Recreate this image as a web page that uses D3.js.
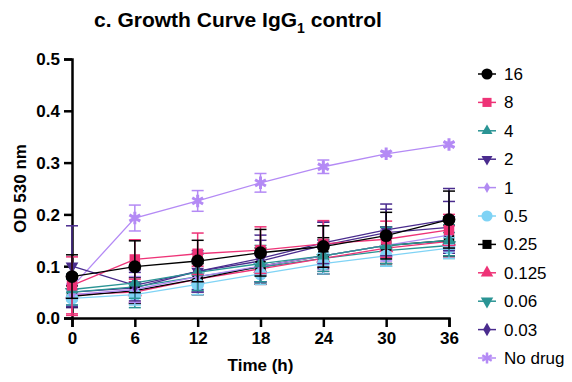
<!DOCTYPE html>
<html>
<head>
<meta charset="utf-8">
<script src="https://cdn.jsdelivr.net/npm/d3@7"></script>
<style>
  body { margin: 0; background: #fff; }
  text { font-family: "Liberation Sans", Arial, sans-serif; }
</style>
</head>
<body>
<div id="chart"></div>
<script>
const hours = [0, 6, 12, 18, 24, 30, 36];
const yTicks = [0.0, 0.1, 0.2, 0.3, 0.4, 0.5];
const seriesNames = ['16', '8', '4', '2', '1', '0.5', '0.25', '0.125', '0.06', '0.03', 'No drug'];

const mean16 = [0.080, 0.099, 0.110, 0.126, 0.138, 0.159, 0.190];
const err16 = [0.042, 0.050, 0.040, 0.045, 0.040, 0.045, 0.055];
const mean8 = [0.063, 0.113, 0.124, 0.131, 0.143, 0.152, 0.170];
const err8 = [0.055, 0.038, 0.040, 0.045, 0.045, 0.035, 0.030];
const mean4 = [0.055, 0.068, 0.088, 0.105, 0.120, 0.140, 0.150];
const err4 = [0.030, 0.030, 0.035, 0.035, 0.030, 0.035, 0.030];
const mean2 = [0.100, 0.063, 0.090, 0.115, 0.145, 0.170, 0.190];
const err2 = [0.078, 0.030, 0.040, 0.045, 0.040, 0.050, 0.060];
const mean1 = [0.045, 0.055, 0.080, 0.100, 0.120, 0.140, 0.160];
const err1 = [0.020, 0.025, 0.030, 0.030, 0.030, 0.030, 0.030];
const mean05 = [0.038, 0.045, 0.065, 0.085, 0.105, 0.120, 0.135];
const err05 = [0.015, 0.020, 0.020, 0.020, 0.020, 0.020, 0.020];
const mean025 = [0.042, 0.053, 0.075, 0.100, 0.120, 0.140, 0.150];
const err025 = [0.020, 0.025, 0.030, 0.035, 0.035, 0.035, 0.030];
const mean0125 = [0.045, 0.050, 0.075, 0.095, 0.115, 0.135, 0.148];
const err0125 = [0.040, 0.020, 0.025, 0.030, 0.030, 0.030, 0.030];
const mean006 = [0.050, 0.060, 0.080, 0.098, 0.115, 0.130, 0.140];
const err006 = [0.025, 0.040, 0.030, 0.030, 0.030, 0.030, 0.025];
const mean003 = [0.050, 0.058, 0.090, 0.110, 0.140, 0.165, 0.175];
const err003 = [0.030, 0.030, 0.035, 0.040, 0.045, 0.045, 0.050];
const meanNoDrug = [0.060, 0.193, 0.226, 0.261, 0.292, 0.317, 0.335];
const errNoDrug = [0.000, 0.025, 0.020, 0.018, 0.013, 0.005, 0.004];

const allMeans = [mean16, mean8, mean4, mean2, mean1, mean05, mean025, mean0125, mean006, mean003, meanNoDrug];
const allErrs = [err16, err8, err4, err2, err1, err05, err025, err0125, err006, err003, errNoDrug];
const colors = ['#000000', '#ee3377', '#2a9494', '#4a2c8e', '#b18af2', '#7fd3f5', '#000000', '#ee3377', '#2a9494', '#4a2c8e', '#b48af5'];
const symbols = [d3.symbolCircle, d3.symbolSquare, d3.symbolTriangle, 'down', d3.symbolDiamond, d3.symbolCircle, d3.symbolSquare, d3.symbolTriangle, 'down', d3.symbolDiamond, d3.symbolAsterisk];
const sizes = [130, 110, 70, 70, 45, 130, 110, 90, 90, 70, 110];

const series = seriesNames.map((name, i) => ({
  name, color: colors[i], symbol: symbols[i], size: sizes[i],
  values: hours.map((h, j) => ({ h, v: allMeans[i][j], e: allErrs[i][j] }))
}));

const width = 572, height = 382;
const margin = { top: 59, left: 72, right: 123, bottom: 64 };
const svg = d3.select('#chart').append('svg').attr('width', width).attr('height', height);

const x = d3.scaleLinear().domain([0, 36]).range([margin.left, width - margin.right]);
const y = d3.scaleLinear().domain([0, 0.5]).range([height - margin.bottom, margin.top]);

function symPath(s, size) {
  if (s === 'down') return d3.symbol(d3.symbolTriangle, size)();
  return d3.symbol(s, size)();
}
function symTransform(s, cx, cy) {
  return s === 'down' ? `translate(${cx},${cy}) rotate(180)` : `translate(${cx},${cy})`;
}

// title
const title = svg.append('text').attr('x', 238).attr('y', 27).attr('text-anchor', 'middle')
  .style('font-size', '21px').style('font-weight', 'bold');
title.append('tspan').text('c. Growth Curve IgG');
title.append('tspan').attr('dy', 6).style('font-size', '14px').text('1');
title.append('tspan').attr('dy', -6).text(' control');

// axes
const xAxis = svg.append('g').attr('transform', `translate(0,${y(0)})`)
  .call(d3.axisBottom(x).tickValues(hours).tickSize(9).tickPadding(5));
const yAxis = svg.append('g').attr('transform', `translate(${x(0)},0)`)
  .call(d3.axisLeft(y).tickValues(yTicks).tickFormat(d3.format('.1f')).tickSize(8).tickPadding(4));
[xAxis, yAxis].forEach(g => {
  g.select('.domain').attr('stroke-width', 2.5);
  g.selectAll('.tick line').attr('stroke-width', 2.5);
  g.selectAll('.tick text').style('font-size', '17px').style('font-weight', 'bold')
    .style('font-family', '"Liberation Sans", Arial, sans-serif').attr('fill', '#000');
});
yAxis.selectAll('.tick text').attr('dy', '0.35em');

svg.append('text').attr('transform', `translate(26,${(y(0) + y(0.5)) / 2}) rotate(-90)`)
  .attr('text-anchor', 'middle').style('font-size', '17px').style('font-weight', 'bold').text('OD 530 nm');
svg.append('text').attr('x', (x(0) + x(36)) / 2).attr('y', 371)
  .attr('text-anchor', 'middle').style('font-size', '17px').style('font-weight', 'bold').text('Time (h)');

// series (draw later ones underneath)
const plot = svg.append('g');
const line = d3.line().x(d => x(d.h)).y(d => y(d.v));
series.slice().reverse().forEach(s => {
  const g = plot.append('g');
  s.values.forEach(d => {
    if (d.e <= 0) return;
    const cx = x(d.h);
    g.append('line').attr('x1', cx).attr('x2', cx).attr('y1', y(d.v - d.e)).attr('y2', y(d.v + d.e))
      .attr('stroke', s.color).attr('stroke-width', 1.5);
    [d.v - d.e, d.v + d.e].forEach(v => g.append('line').attr('x1', cx - 6).attr('x2', cx + 6)
      .attr('y1', y(v)).attr('y2', y(v)).attr('stroke', s.color).attr('stroke-width', 1.5));
  });
  g.append('path').datum(s.values).attr('d', line).attr('fill', 'none')
    .attr('stroke', s.color).attr('stroke-width', 1.3);
  g.selectAll('.pt').data(s.values).enter().append('path')
    .attr('d', symPath(s.symbol, s.size))
    .attr('transform', d => symTransform(s.symbol, x(d.h), y(d.v)))
    .attr('fill', s.color)
    .attr('stroke', s.symbol === d3.symbolAsterisk ? s.color : 'none')
    .attr('stroke-width', 3);
});

// legend
const legend = svg.append('g');
series.forEach((s, i) => {
  const ly = 74 + i * 28.4;
  const g = legend.append('g');
  g.append('line').attr('x1', 478).attr('x2', 496).attr('y1', ly).attr('y2', ly)
    .attr('stroke', s.color).attr('stroke-width', 1.5);
  g.append('path').attr('d', symPath(s.symbol, s.size * 0.75))
    .attr('transform', symTransform(s.symbol, 487, ly))
    .attr('fill', s.color)
    .attr('stroke', s.symbol === d3.symbolAsterisk ? s.color : 'none')
    .attr('stroke-width', 2.5);
  g.append('text').attr('x', 504).attr('y', ly).attr('dy', '0.35em')
    .style('font-size', '17px').text(s.name);
});
</script>
</body>
</html>
